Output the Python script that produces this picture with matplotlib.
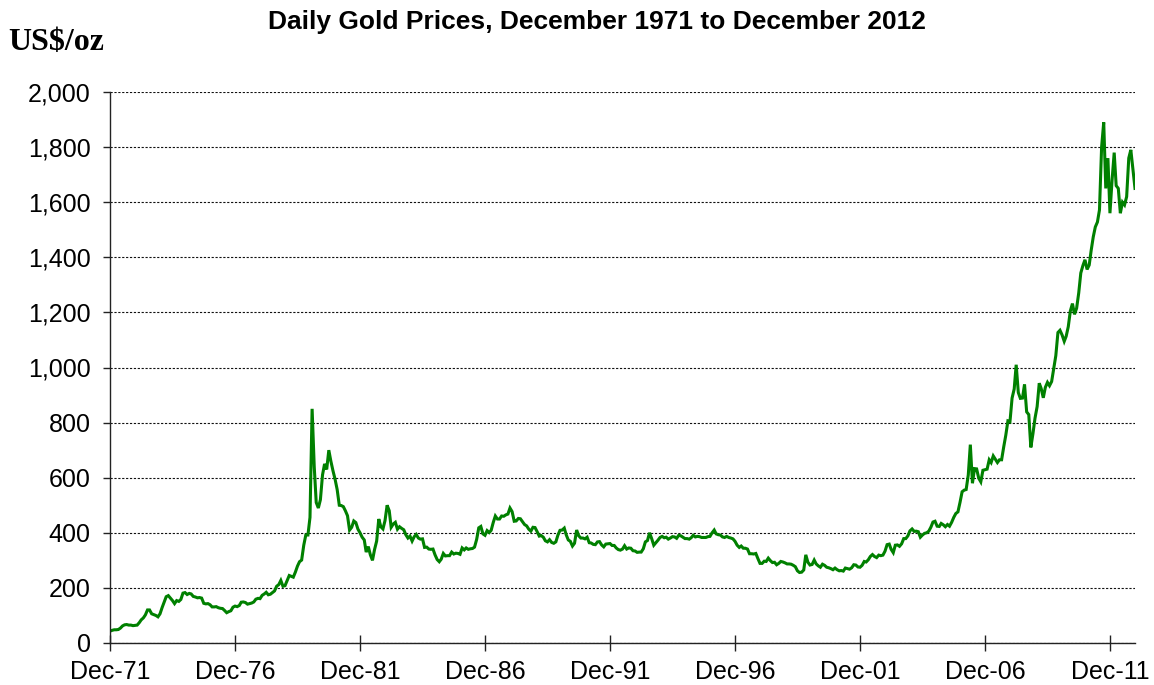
import datetime
import numpy as np
import matplotlib
matplotlib.use('Agg')
import matplotlib.pyplot as plt
import matplotlib.dates as mdates
import matplotlib.ticker as mticker

# monthly gold price (US$/oz), Dec 1971 .. Dec 2012
prices_1970s = [43,
    46, 48, 48, 49, 54, 62, 66, 67, 65, 65, 63, 64,
    65, 74, 84, 91, 102, 120, 120, 106, 103, 100, 95, 106,
    129, 150, 168, 172, 163, 154, 143, 154, 151, 158, 181, 183,
    176, 180, 178, 169, 167, 164, 165, 163, 144, 142, 143, 139,
    131, 131, 132, 128, 126, 125, 118, 110, 114, 117, 130, 134,
    132, 136, 148, 149, 147, 141, 143, 145, 149, 159, 162, 161,
    173, 178, 184, 175, 177, 183, 189, 206, 212, 227, 206, 208,
    227, 245, 242, 239, 257, 279, 295, 301, 355, 392, 392, 456]
prices_1980s = [
    850, 640, 510, 490, 520, 610, 650, 630, 700, 660, 625, 595,
    557, 500, 499, 495, 480, 462, 410, 420, 443, 437, 413, 400,
    384, 374, 330, 350, 320, 300, 339, 370, 450, 422, 414, 444,
    500, 480, 420, 432, 438, 413, 422, 416, 411, 393, 381, 388,
    370, 386, 394, 381, 377, 378, 347, 348, 341, 340, 341, 320,
    303, 295, 304, 325, 316, 317, 317, 330, 323, 326, 325, 322,
    345, 338, 345, 340, 342, 343, 348, 376, 418, 423, 396, 391,
    408, 401, 409, 438, 461, 450, 450, 461, 460, 465, 468, 490,
    477, 442, 443, 452, 451, 440, 430, 425, 413, 406, 420, 419,
    404, 388, 390, 384, 371, 367, 375, 365, 362, 367, 392, 409]
prices_1990s = [
    410, 417, 393, 374, 369, 352, 362, 410, 389, 381, 381, 378,
    384, 364, 363, 358, 357, 367, 368, 356, 349, 359, 360, 361,
    354, 354, 345, 339, 337, 341, 353, 341, 345, 344, 335, 334,
    329, 330, 330, 342, 367, 372, 400, 379, 355, 364, 373, 383,
    387, 382, 384, 377, 381, 386, 385, 380, 391, 389, 384, 379,
    379, 377, 382, 391, 385, 387, 386, 383, 383, 383, 386, 387,
    400, 410, 396, 393, 392, 385, 383, 387, 383, 381, 378, 369,
    355, 347, 352, 344, 344, 341, 324, 324, 323, 325, 306, 289,
    289, 297, 296, 308, 299, 292, 293, 284, 289, 296, 294, 291,
    287, 287, 286, 282, 277, 262, 256, 257, 265, 320, 293, 283]
prices_2000s = [
    285, 301, 287, 280, 275, 286, 282, 275, 273, 270, 266, 272,
    266, 262, 263, 261, 272, 270, 268, 273, 284, 283, 276, 275,
    282, 296, 294, 302, 314, 321, 314, 310, 319, 317, 319, 333,
    357, 359, 340, 328, 355, 356, 351, 360, 379, 379, 389, 407,
    414, 405, 406, 404, 384, 392, 398, 400, 406, 420, 439, 442,
    424, 423, 434, 429, 422, 430, 424, 438, 456, 470, 476, 510,
    549, 555, 557, 610, 720, 580, 633, 632, 598, 585, 627, 629,
    631, 665, 655, 679, 667, 655, 665, 665, 712, 754, 806, 803,
    889, 922, 1010, 909, 888, 889, 939, 839, 829, 710, 760, 816,
    858, 943, 924, 890, 928, 946, 934, 949, 996, 1043, 1127, 1135]
prices_2010s = [
    1118, 1095, 1113, 1148, 1205, 1232, 1193, 1215, 1271, 1343, 1370, 1391,
    1356, 1372, 1424, 1474, 1510, 1528, 1572, 1800, 1890, 1650, 1760, 1560,
    1680, 1780, 1660, 1650, 1560, 1600, 1590, 1620, 1760, 1790, 1720, 1650]

tick_years = [1971, 1976, 1981, 1986, 1991, 1996, 2001, 2006, 2011]
y_ticks = list(range(0, 2001, 200))

prices = prices_1970s + prices_1980s + prices_1990s + prices_2000s + prices_2010s
dates = []
y, m = 1971, 12
for p in prices:
    dates.append(datetime.date(y, m, 1))
    m += 1
    if m > 12:
        m = 1
        y += 1

plt.rcParams['font.family'] = ['Liberation Sans', 'DejaVu Sans']

W, H = 1154, 685
fig = plt.figure(figsize=(W / 100, H / 100), dpi=100)
ax = fig.add_axes([110 / W, 1 - 643 / H, (1135 - 110) / W, (643 - 92) / H])

ax.plot(dates, prices, color='#008000', lw=2.2, solid_joinstyle='miter')

ax.set_ylim(0, 2000)
ax.set_yticks(y_ticks)
ax.yaxis.set_major_formatter(mticker.FuncFormatter(lambda v, p: '{:,.0f}'.format(v)))
ax.yaxis.grid(True, linestyle=(0, (2, 1.5)), color='#111111', lw=0.8)
ax.set_axisbelow(True)

ax.set_xlim(datetime.date(1971, 12, 1), datetime.date(2012, 12, 1))
ax.set_xticks([datetime.date(yr, 12, 1) for yr in tick_years])
ax.xaxis.set_major_formatter(mdates.DateFormatter('%b-%y'))

for s in ['top', 'right']:
    ax.spines[s].set_visible(False)
for s in ['left', 'bottom']:
    ax.spines[s].set_color('#222222')
    ax.spines[s].set_linewidth(1)

ax.tick_params(axis='x', direction='inout', length=12, width=1, color='#222222',
               labelsize=18, pad=6)
ax.tick_params(axis='y', direction='out', length=5, width=1, color='#222222',
               labelsize=18, pad=9)

fig.text(597 / W, 1 - 22 / H, 'Daily Gold Prices, December 1971 to December 2012',
         ha='center', va='center', fontsize=19, fontweight='bold')
fig.text(8 / W, 1 - 42 / H, 'US$/oz', ha='left', va='center', fontsize=23,
         fontweight='bold', family='Liberation Serif')

fig.savefig('out.png', dpi=100)
